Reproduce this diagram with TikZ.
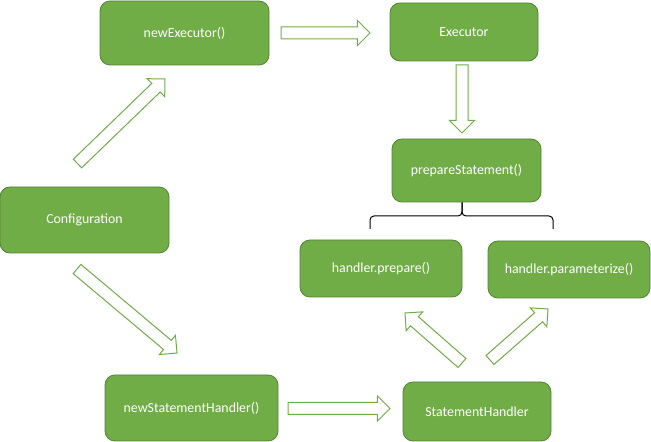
\documentclass[tikz,border=0pt]{standalone}
\usepackage{fontspec}
\setmainfont{Carlito}
\usetikzlibrary{calc}
\definecolor{boxfill}{HTML}{70AD47}
\definecolor{boxline}{HTML}{548235}
\definecolor{arrline}{HTML}{70AD47}
\tikzset{
  box/.style={rectangle, rounded corners=7.5pt, fill=boxfill, draw=boxline, line width=0.6pt,
    text=white, font=\fontsize{10.4pt}{12pt}\selectfont, inner sep=0pt},
  blockarr/.style={draw=arrline, line width=0.75pt, fill=white, line join=miter},
  bracket/.style={draw=black, line width=0.75pt, rounded corners=3pt}
}
\newcommand\blockarrow[2]{%
  \coordinate (ba-b) at ($(#2)!9.4pt!(#1)$);
  \draw[blockarr] ($(#1)!4.5pt!90:(#2)$) -- ($(ba-b)!4.5pt!90:(#2)$) -- ($(ba-b)!9.4pt!90:(#2)$)
    -- (#2) -- ($(ba-b)!9.4pt!-90:(#2)$) -- ($(ba-b)!4.5pt!-90:(#2)$) -- ($(#1)!4.5pt!-90:(#2)$) -- cycle;}
\begin{document}
\begin{tikzpicture}[x=0.75pt,y=-0.75pt]
\useasboundingbox (0,0) rectangle (651,442);
% nodes
\node[box, minimum width=126.75pt, minimum height=48pt] (newexec) at (184.5,33) {newExecutor()};
\node[box, minimum width=111pt, minimum height=43.5pt] (exec) at (464,32) {Executor};
\node[box, minimum width=111.75pt, minimum height=47.25pt] (prep) at (466.5,170.5) {prepareStatement()};
\node[box, minimum width=126.75pt, minimum height=49.5pt] (config) at (84.5,220) {Configuration};
\node[box, minimum width=121.5pt, minimum height=42.75pt] (hprep) at (381,268.5) {handler.prepare()};
\node[box, minimum width=121.5pt, minimum height=42.75pt] (hparam) at (569,269.5) {handler.parameterize()};
\node[box, minimum width=129.75pt, minimum height=49.5pt] (newsh) at (191.5,408) {newStatementHandler()};
\node[box, minimum width=111pt, minimum height=44.25pt] (sh) at (477,411.5) {StatementHandler};
% arrow end points
\coordinate (a1s) at (77.5,163.5); \coordinate (a1t) at (165,79);
\coordinate (a2s) at (281,33);     \coordinate (a2t) at (370,33);
\coordinate (a3s) at (462,65);     \coordinate (a3t) at (462,133);
\coordinate (a4s) at (77,269);     \coordinate (a4t) at (177,353);
\coordinate (a5s) at (288,408.5);  \coordinate (a5t) at (390,408.5);
\coordinate (a6s) at (462,363);    \coordinate (a6t) at (405,313);
\coordinate (a7s) at (490,360);    \coordinate (a7t) at (548,309);
\blockarrow{a1s}{a1t}
\blockarrow{a2s}{a2t}
\blockarrow{a3s}{a3t}
\blockarrow{a4s}{a4t}
\blockarrow{a5s}{a5t}
\blockarrow{a6s}{a6t}
\blockarrow{a7s}{a7t}
% bracket
\coordinate (brtop) at ($(prep.south)+(-4.5,0)$);
\coordinate (brmid) at (462,216);
\coordinate (brl) at (370,229);
\coordinate (brr) at (553,229);
\draw[bracket] (brl) -- (brl |- brmid) -- (brmid) -- (brtop);
\draw[bracket] (brr) -- (brr |- brmid) -- (brmid) -- (brtop);
\end{tikzpicture}
\end{document}
